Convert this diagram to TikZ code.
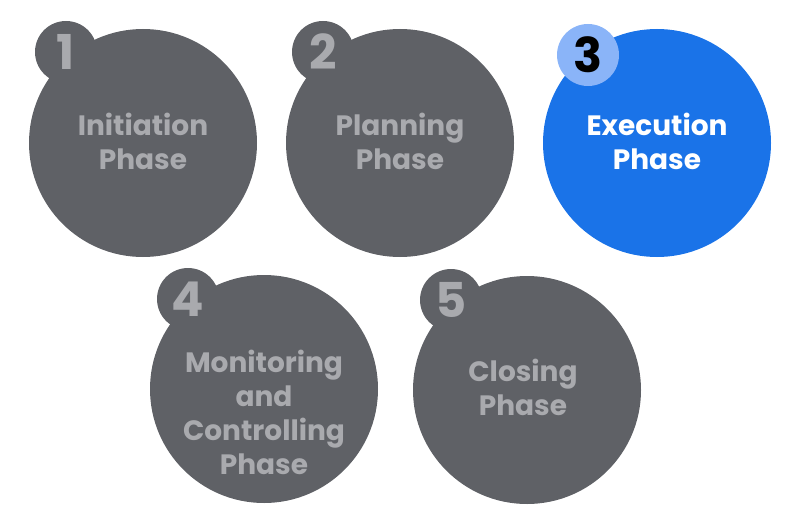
\documentclass[tikz,border=0pt]{standalone}
\usepackage{fontspec}
\setmainfont{Poppins}[BoldFont={* Bold}]
\definecolor{phasegrey}{HTML}{5F6166}
\definecolor{labelgrey}{HTML}{A9AAAE}
\definecolor{phaseblue}{HTML}{1A73E8}
\definecolor{badgeblue}{HTML}{8AB4F8}
\tikzset{
  phase/.style={circle, fill=phasegrey, minimum size=228pt, inner sep=0pt},
  badge/.style={circle, fill=phasegrey, minimum size=62pt, inner sep=0pt},
  num/.style={text=labelgrey, font=\fontsize{48}{48}\selectfont\bfseries},
  lbl/.style={text=labelgrey, align=center, font=\fontsize{28}{34}\selectfont\bfseries}
}
\begin{document}
\begin{tikzpicture}[x=1pt,y=-1pt]
  \useasboundingbox (0,0) rectangle (800,527);
  % phases
  \node[phase] (p1) at (143,143) {};
  \node[phase] (p2) at (400,143) {};
  \node[phase, fill=phaseblue] (p3) at (657,143) {};
  \node[phase] (p4) at (264,389) {};
  \node[phase] (p5) at (527,390) {};
  % badges
  \node[badge] (b1) at (66,52) {};
  \node[badge] (b2) at (323,52) {};
  \node[badge, fill=badgeblue] (b3) at (588,55) {};
  \node[badge] (b4) at (188,299) {};
  \node[badge] (b5) at (451,300) {};
  \node[num] at (b1) {1};
  \node[num] at (b2) {2};
  \node[num, text=black] at (b3) {3};
  \node[num] at (b4) {4};
  \node[num] at (b5) {5};
  % labels
  \node[lbl] at (143,141) {Initiation\\Phase};
  \node[lbl] at (400,141) {Planning\\Phase};
  \node[lbl, text=white] at (657,141) {Execution\\Phase};
  \node[lbl] at (264,412) {Monitoring\\and\\Controlling\\Phase};
  \node[lbl] at (523,387) {Closing\\Phase};
\end{tikzpicture}
\end{document}
